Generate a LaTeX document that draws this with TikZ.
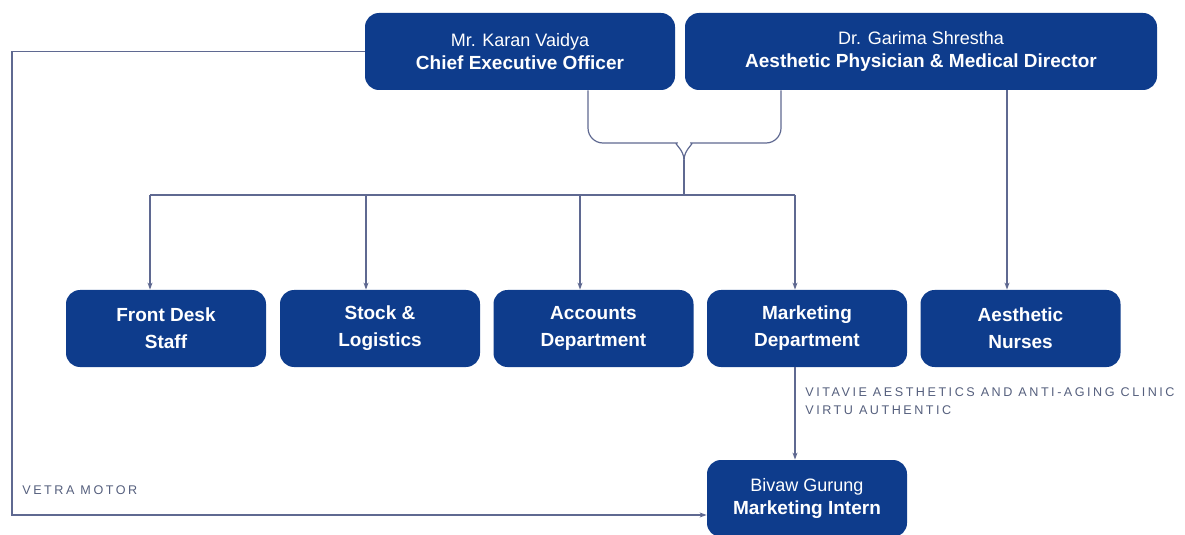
\documentclass[tikz,border=0pt]{standalone}
\usepackage{fontspec}
\setmainfont{Liberation Sans}
\newfontfamily\tagfont[LetterSpace=20]{Liberation Sans}
\usetikzlibrary{arrows.meta}
\definecolor{boxblue}{RGB}{14,60,140}
\definecolor{linkgray}{RGB}{95,105,145}
\definecolor{taggray}{RGB}{85,95,125}
\begin{document}
\begin{tikzpicture}[x=.5pt,y=-.5pt,
    every node/.style={font=\fontsize{9}{11.5}\selectfont},
    role/.style={fill=boxblue,text=white,rounded corners=7pt,align=center,inner sep=0pt,minimum height=38.5pt},
    unit/.style={role,minimum width=100pt,font=\fontsize{9.5}{13.5}\selectfont\bfseries},
    link/.style={draw=linkgray,line width=.6pt},
    tip/.style={link,-{Stealth[length=3.5pt,width=2.5pt]}},
    tag/.style={text=taggray,font=\tagfont\fontsize{6.3}{9}\selectfont,align=left,inner sep=0pt,anchor=base west}]
    \useasboundingbox (0,0) rectangle (1185,535);
    \node[role,minimum width=155pt] (ceo) at (520,51.5) {Mr. Karan Vaidya\\{\fontsize{9.5}{11.5}\selectfont\bfseries Chief Executive Officer}};
    \node[role,minimum width=236pt] (dir) at (921,51.5) {Dr. Garima Shrestha\\{\fontsize{9.5}{11.5}\selectfont\bfseries Aesthetic Physician \& Medical Director}};
    \node[unit] (fd) at (166,328.5) {Front Desk\\Staff};
    \node[unit] (stock) at (380,328.5) {Stock \&\\Logistics};
    \node[unit] (acc) at (593.5,328.5) {Accounts\\Department};
    \node[unit] (mkt) at (807,328.5) {Marketing\\Department};
    \node[unit] (nur) at (1020.5,328.5) {Aesthetic\\Nurses};
    \node[role,minimum width=100pt] (int) at (807,498.5) {Bivaw Gurung\\{\fontsize{9.5}{11.5}\selectfont\bfseries Marketing Intern}};
    \node[tag] (clinic) at (805,414) {VITAVIE AESTHETICS AND ANTI-AGING CLINIC\\VIRTU AUTHENTIC};
    \node[tag] (vetra) at (22,494) {VETRA MOTOR};
    \coordinate (fork) at (684,160);
    \coordinate (bus) at (684,195);
    \coordinate (rail) at (12,515);
    \draw[link,rounded corners=7.5pt] ([xshift=34pt]ceo.south) |- (662,143) to[out=0,in=90] (fork);
    \draw[link,rounded corners=7.5pt] ([xshift=-70pt]dir.south) |- (706,143) to[out=180,in=90] (fork);
    \draw[link] (fork) -- (bus);
    \draw[link] ([xshift=-8pt]fd.north |- bus) -- ([xshift=-6pt]mkt.north |- bus);
    \draw[tip] ([xshift=-8pt]fd.north |- bus) -- ([xshift=-8pt]fd.north);
    \draw[tip] ([xshift=-7pt]stock.north |- bus) -- ([xshift=-7pt]stock.north);
    \draw[tip] ([xshift=-6.75pt]acc.north |- bus) -- ([xshift=-6.75pt]acc.north);
    \draw[tip] ([xshift=-6pt]mkt.north |- bus) -- ([xshift=-6pt]mkt.north);
    \draw[tip] ([xshift=-6.75pt]nur.north |- dir.south) -- ([xshift=-6.75pt]nur.north);
    \draw[tip] ([xshift=-6pt]mkt.south) -- ([xshift=-6pt]int.north);
    \draw[tip] (ceo.west) -| (rail) -- (rail -| int.west);
\end{tikzpicture}
\end{document}
